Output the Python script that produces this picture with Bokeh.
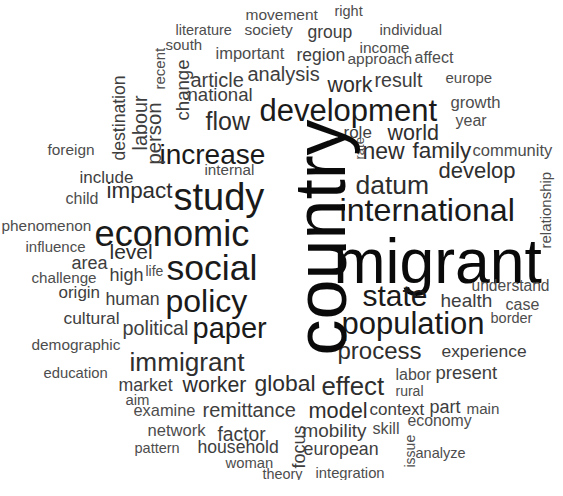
import math
from bokeh.plotting import figure
from bokeh.models import ColumnDataSource, Range1d
from bokeh.core.properties import value
from bokeh.embed import file_html
from bokeh.resources import INLINE

# ---- data: word frequencies (expressed as font weight in px) ----
words = ["movement", "right", "literature", "society", "group", "individual", "south",
         "important", "region", "income", "approach", "affect", "article", "analysis",
         "work", "result", "europe", "national", "development", "growth", "flow", "year",
         "role", "world", "foreign", "increase", "new", "family", "community", "internal",
         "datum", "develop", "include", "impact", "study", "child", "international",
         "phenomenon", "economic", "influence", "level", "migrant", "area", "social",
         "challenge", "high", "life", "origin", "human", "policy", "state", "understand",
         "health", "case", "cultural", "political", "paper", "population", "border",
         "demographic", "immigrant", "process", "experience", "education", "market",
         "worker", "global", "effect", "labor", "present", "rural", "aim", "examine",
         "remittance", "model", "context", "part", "main", "network", "factor", "mobility",
         "skill", "economy", "pattern", "household", "european", "analyze", "woman",
         "theory", "integration",
         "recent", "change", "destination", "labour", "person", "rate", "country",
         "relationship", "focus", "issue"]

weights = [15.5, 14.5, 14.5, 15.5, 17.5, 15, 15,
           16.5, 17.5, 15.5, 15.5, 16, 20, 20,
           21.3, 19.6, 15, 18.6, 31, 16.7, 25, 16,
           17, 21.5, 15.4, 28, 23, 22.5, 16.5, 15.2,
           26.5, 22, 17, 22.4, 38, 16, 32.2,
           15.4, 36.2, 15, 21, 62.5, 18, 35.6,
           15.2, 18, 14, 17, 17.7, 32, 30, 15.6,
           19, 16, 17.4, 19.8, 29, 31, 14.5,
           15.4, 26.2, 24, 17.4, 14.8, 17.7,
           21.3, 22.9, 25.8, 16, 18.5, 14, 14.9, 16.4,
           20, 21.7, 17, 18, 15.2, 16.6, 19.3, 18.9,
           16.2, 15.8, 14.5, 17.6, 17.8, 14.5, 14.8,
           14.4, 14.8,
           15, 18.6, 17.6, 19.8, 20.3, 13, 72,
           15, 18, 14]

# ---- layout: (x of text start, baseline y in page pixels, vertical?) ----
layout = [(253, 22, 0), (342, 18, 0), (183, 37, 0), (252, 37, 0), (315, 39, 0), (387, 37, 0), (173, 52, 0),
          (223, 60, 0), (304, 62, 0), (367, 55, 0), (355, 66, 0), (422, 65, 0), (198, 87, 0), (255, 81, 0),
          (335, 92, 0), (382, 87, 0), (453, 85, 0), (195, 102, 0), (267, 118, 0), (458, 110, 0), (213, 128, 0), (463, 128, 0),
          (351, 140, 0), (395, 140, 0), (55, 157, 0), (167, 162, 0), (370, 158, 0), (420, 158, 0), (480, 157, 0), (212, 177, 0),
          (363, 192, 0), (446, 178, 0), (87, 185, 0), (114, 198, 0), (181, 204, 0), (73, 206, 0), (347, 217, 0),
          (9, 233, 0), (102, 241, 0), (33, 254, 0), (117, 259, 0), (341, 268, 0), (79, 270, 0), (174, 275, 0),
          (39, 285, 0), (117, 282, 0), (153, 278, 0), (66, 300, 0), (113, 306, 0), (173, 308, 0), (370, 303, 0), (479, 293, 0),
          (448, 308, 0), (513, 312, 0), (71, 325, 0), (130, 335, 0), (200, 335, 0), (349, 331, 0), (498, 325, 0),
          (39, 352, 0), (137, 369, 0), (345, 358, 0), (449, 358, 0), (51, 380, 0), (126, 392, 0),
          (190, 392, 0), (262, 390, 0), (329, 393, 0), (403, 382, 0), (443, 380, 0), (403, 398, 0), (133, 407, 0), (141, 417, 0),
          (210, 417, 0), (316, 418, 0), (377, 417, 0), (437, 414, 0), (474, 416, 0), (155, 438, 0), (225, 442, 0), (310, 438, 0),
          (380, 435, 0), (415, 428, 0), (142, 455, 0), (205, 454, 0), (311, 456, 0), (423, 460, 0), (233, 470, 0),
          (270, 481, 0), (323, 480, 0),
          (167, 97, 1), (190, 128, 1), (126, 168, 1), (147, 158, 1), (161, 172, 1), (367, 167, 1), (328, 363, 1),
          (553, 256, 1), (306, 476, 1), (417, 475, 1)]


def shade(w):
    if w >= 60:
        return "#0a0a0a"
    if w >= 28:
        return "#1a1a1a"
    if w >= 21:
        return "#2e2e2e"
    if w >= 17:
        return "#3e3e3e"
    return "#4d4d4d"


src = ColumnDataSource(dict(
    x=[l[0] for l in layout],
    y=[496 - l[1] for l in layout],
    text=words,
    size=["%.1fpx" % w for w in weights],
    angle=[math.pi / 2 if l[2] else 0.0 for l in layout],
    color=[shade(w) for w in weights],
))

p = figure(width=555, height=480, x_range=Range1d(8, 563), y_range=Range1d(8, 488),
           output_backend="svg", toolbar_location=None, min_border=0)
p.axis.visible = False
p.grid.visible = False
p.outline_line_color = None
p.background_fill_color = "white"
p.border_fill_color = "white"

p.text(x="x", y="y", text="text", angle="angle", source=src,
       text_font=value("Liberation Sans"), text_font_size="size",
       text_color="color", text_align="left", text_baseline="alphabetic")

open("out.html", "w").write(file_html(p, INLINE))
